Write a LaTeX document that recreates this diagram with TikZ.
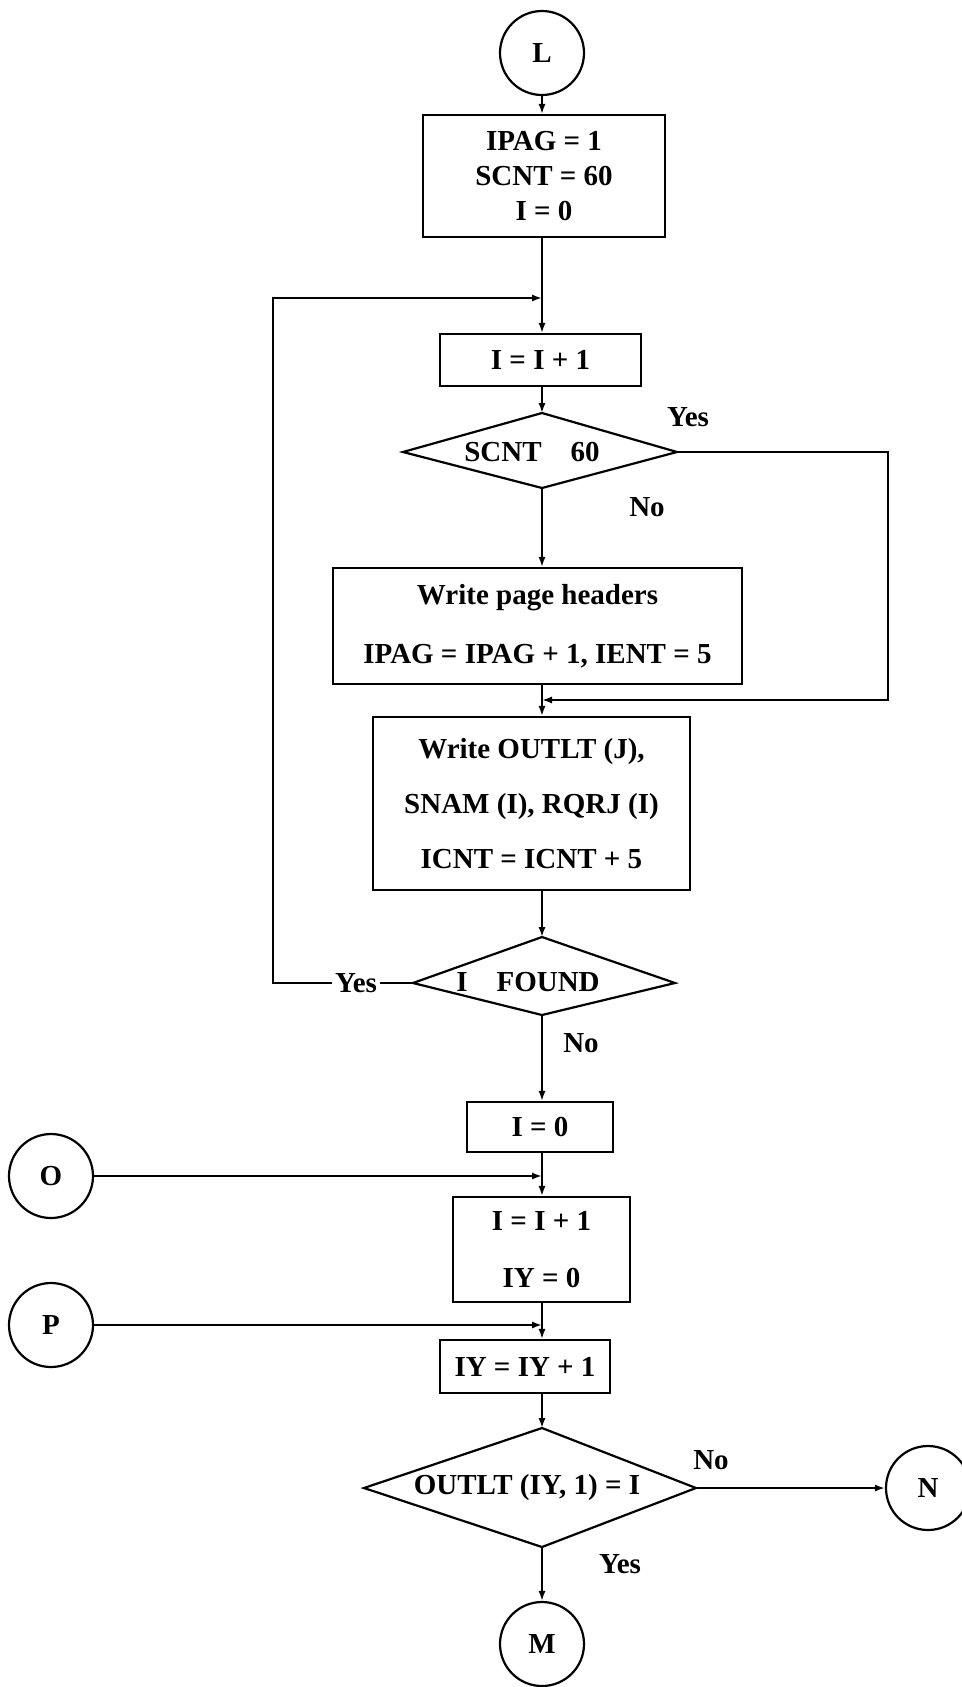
\documentclass[tikz,border=0pt]{standalone}
\usepackage{fontspec}
\setmainfont{Liberation Serif}
\usetikzlibrary{arrows.meta}
\begin{document}
\begin{tikzpicture}[x=0.5pt,y=-0.5pt,line width=1.1pt,
  every node/.style={font=\fontsize{14.5}{17.5}\selectfont\bfseries},
  box/.style={draw,rectangle,inner sep=0pt,line width=1.1pt,align=center},
  circ/.style={draw,circle,inner sep=0pt,minimum size=42pt,line width=1.1pt},
  lbl/.style={inner sep=1pt},
  arr/.style={-{Latex[length=5pt,width=3.6pt]}}]
\useasboundingbox (0,0) rectangle (962,1687);

% nodes
\node[circ] (L) at (542,53) {L};
\node[box,minimum width=121pt,minimum height=61pt] (b1) at (544,176) {IPAG = 1\\SCNT = 60\\I = 0};
\coordinate (j1) at (542,298);
\node[box,minimum width=100.5pt,minimum height=26pt] (b2) at (540.5,360) {I = I + 1};
\coordinate (d1t) at (542,413);
\coordinate (d1r) at (677,452);
\coordinate (d1b) at (542,488);
\coordinate (d1l) at (403,452);
\draw (d1t) -- (d1r) -- (d1b) -- (d1l) -- cycle;
\node[lbl] (d1) at (532,452) {SCNT\quad 60};
\node[lbl] (yes1) at (688,417) {Yes};
\node[lbl] (no1) at (647,507) {No};
\node[box,minimum width=204.5pt,minimum height=58pt] (b3) at (537.5,626) {Write page headers\\[12pt]IPAG = IPAG + 1, IENT = 5};
\coordinate (j2) at (542,700);
\coordinate (c2) at (888,700);
\node[box,minimum width=158.5pt,minimum height=86.5pt] (b4) at (531.5,803.5) {Write OUTLT (J),\\[10pt]SNAM (I), RQRJ (I)\\[10pt]ICNT = ICNT + 5};
\coordinate (d2t) at (542,937);
\coordinate (d2r) at (675,983);
\coordinate (d2b) at (542,1015);
\coordinate (d2l) at (413,983);
\draw (d2t) -- (d2r) -- (d2b) -- (d2l) -- cycle;
\node[lbl] (d2) at (528,982) {I\quad FOUND};
\node[lbl] (yes2) at (356,983) {Yes};
\coordinate (c1) at (273,983);
\node[lbl] (no2) at (581,1043) {No};
\node[box,minimum width=73pt,minimum height=25pt] (b5) at (540,1127) {I = 0};
\node[circ] (O) at (51,1176) {O};
\coordinate (j3) at (542,1176);
\node[box,minimum width=88.5pt,minimum height=52.5pt] (b6) at (541.5,1249.5) {I = I + 1\\[11pt]IY = 0};
\node[circ] (P) at (51,1325) {P};
\coordinate (j4) at (542,1325);
\node[box,minimum width=85pt,minimum height=26.5pt] (b7) at (525,1366.5) {IY = IY + 1};
\coordinate (d3t) at (542,1428);
\coordinate (d3r) at (696,1488);
\coordinate (d3b) at (542,1547);
\coordinate (d3l) at (364,1488);
\draw (d3t) -- (d3r) -- (d3b) -- (d3l) -- cycle;
\node[lbl] (d3) at (527,1488) {OUTLT (IY, 1) = I};
\node[lbl] (no3) at (711,1460) {No};
\node[lbl] (yes3) at (620,1564) {Yes};
\node[circ] (N) at (928,1488) {N};
\node[circ] (M) at (542,1644) {M};

% connectors
\draw[arr] (L) -- (L |- b1.north);
\draw (L |- b1.south) -- (j1);
\draw[arr] (j1) -- (L |- b2.north);
\draw[arr] (L |- b2.south) -- (d1t);
\draw[arr] (d1b) -- (L |- b3.north);
\draw[arr] (d1r) -| (c2) -- (j2);
\draw (L |- b3.south) -- (j2);
\draw[arr] (j2) -- (L |- b4.north);
\draw[arr] (L |- b4.south) -- (d2t);
\draw (d2l) -- (yes2.east);
\draw[arr] (yes2.west) -- (c1) |- (j1);
\draw[arr] (d2b) -- (L |- b5.north);
\draw (L |- b5.south) -- (j3);
\draw[arr] (O) -- (j3);
\draw[arr] (j3) -- (L |- b6.north);
\draw (L |- b6.south) -- (j4);
\draw[arr] (P) -- (j4);
\draw[arr] (j4) -- (L |- b7.north);
\draw[arr] (L |- b7.south) -- (d3t);
\draw[arr] (d3r) -- (N);
\draw[arr] (d3b) -- (M);
\end{tikzpicture}
\end{document}
